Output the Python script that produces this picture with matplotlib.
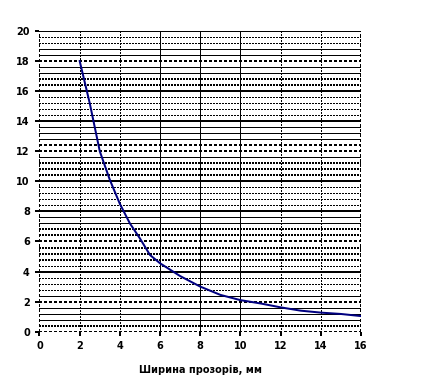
import matplotlib
matplotlib.use("Agg")
import matplotlib.pyplot as plt
import numpy as np

# curve
width_mm = [2, 2.5, 3, 3.5, 4, 4.5, 5, 5.5, 6, 7, 8, 9, 10, 11, 12, 13, 14, 15, 16]
value = [18.0, 15.2, 12.0, 10.1, 8.5, 7.2, 6.2, 5.1, 4.55, 3.7, 3.0, 2.45,
         2.1, 1.88, 1.62, 1.4, 1.27, 1.18, 1.04]

x_ticks = [0, 2, 4, 6, 8, 10, 12, 14, 16]
y_ticks = [0, 2, 4, 6, 8, 10, 12, 14, 16, 18, 20]
x_label = "Ширина прозорів, мм"

# old excel-style gridline look, one code per 0.4 step from 0 to 20
# T thick solid, S solid, d dotted, D dense dotted, H heavy dotted
h_styles = "HDSSSHSdddTdDDDHDDSSTddddTDDDSHHSSSTddddTDDSSHSSddT"
v_styles = {0: "H", 2: "d", 4: "d", 6: "S", 8: "S", 10: "S", 12: "d", 14: "d", 16: "H"}

PX = 0.72  # one pixel in points at dpi 100
STYLE = {
    "T": dict(lw=2 * PX, ls="-"),
    "S": dict(lw=1 * PX, ls="-"),
    "d": dict(lw=1 * PX, ls=(0, (1.4, 1.4))),
    "D": dict(lw=1.6 * PX, ls=(0, (1.0, 1.0))),
    "H": dict(lw=2 * PX, ls=(0, (1.4, 1.4))),
}

fig = plt.figure(figsize=(4.22, 3.85), dpi=100)
ax = fig.add_axes([0.0936, 0.1384, 0.7619, 0.7811])
ax.set_xlim(0, 16)
ax.set_ylim(0, 20)

for i, code in enumerate(h_styles):
    ax.axhline(i * 0.4, color="black", antialiased=False, zorder=1, **STYLE[code])
for xv, code in v_styles.items():
    ax.axvline(xv, color="black", antialiased=False, zorder=1, **STYLE[code])

ax.plot(width_mm, value, color="#000080", lw=2 * PX, zorder=3)

for s in ax.spines.values():
    s.set_visible(False)

ax.set_xticks(x_ticks)
ax.set_yticks(y_ticks)
ax.tick_params(axis="both", length=3, width=2 * PX, color="black",
               labelsize=7, pad=4)
for lab in ax.get_xticklabels() + ax.get_yticklabels():
    lab.set_fontweight("bold")

ax.set_xlabel(x_label, fontsize=7, fontweight="bold", labelpad=10)

fig.savefig("out.png", dpi=100)
